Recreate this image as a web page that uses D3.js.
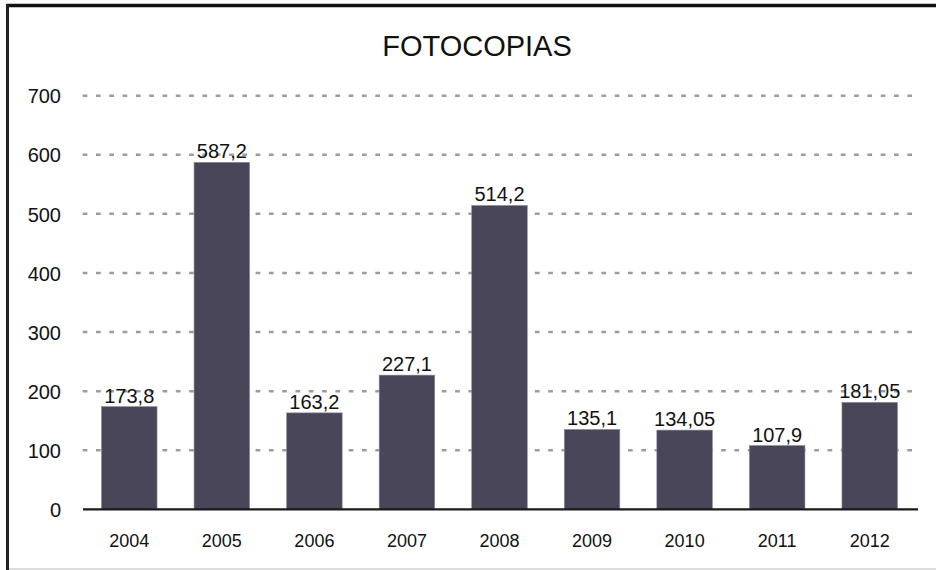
<!DOCTYPE html>
<html>
<head>
<meta charset="utf-8">
<script src="https://cdn.jsdelivr.net/npm/d3@7"></script>
<style>
  html, body { margin: 0; padding: 0; background: #fff; }
  svg { display: block; font-family: "Liberation Sans", Arial, sans-serif; }
</style>
</head>
<body>
<svg id="chart" width="936" height="570"></svg>
<script>
const title = "FOTOCOPIAS";
const categories = ["2004", "2005", "2006", "2007", "2008", "2009", "2010", "2011", "2012"];
const values = [173.8, 587.2, 163.2, 227.1, 514.2, 135.1, 134.05, 107.9, 181.05];
const valueLabels = ["173,8", "587,2", "163,2", "227,1", "514,2", "135,1", "134,05", "107,9", "181,05"];
const yTicks = [0, 100, 200, 300, 400, 500, 600, 700];

const svg = d3.select("#chart");
const W = 936, H = 570;

// frame
svg.append("rect").attr("x", 0).attr("y", 0).attr("width", W).attr("height", H).attr("fill", "#fff");
svg.append("line").attr("x1", 7).attr("x2", W).attr("y1", 5.5).attr("y2", 5.5)
  .attr("stroke", "#111").attr("stroke-width", 3.5);
svg.append("line").attr("x1", 7.5).attr("x2", 7.5).attr("y1", 4).attr("y2", H)
  .attr("stroke", "#222").attr("stroke-width", 3);
svg.append("line").attr("x1", 9).attr("x2", W).attr("y1", 569).attr("y2", 569)
  .attr("stroke", "#d0d0d0").attr("stroke-width", 1.5);

const x = d3.scaleBand().domain(categories).range([83, 916]).paddingInner(0.4).paddingOuter(0.2);
const y = d3.scaleLinear().domain([0, 700]).range([509.3, 95.7]);

// title
svg.append("text").attr("x", 477).attr("y", 56).attr("text-anchor", "middle")
  .attr("font-size", 29).attr("fill", "#111").text(title);

// gridlines
svg.append("g").selectAll("line").data(yTicks.filter(d => d > 0)).join("line")
  .attr("x1", 82.7).attr("x2", 916)
  .attr("y1", d => y(d)).attr("y2", d => y(d))
  .attr("stroke", "#9c9c9c").attr("stroke-width", 2.5)
  .attr("stroke-dasharray", "4.7 8.6");

// y axis labels
const yAxis = d3.axisLeft(y).tickValues(yTicks).tickSize(0).tickPadding(0).tickFormat(d3.format("d"));
const ya = svg.append("g").attr("transform", "translate(61,0)").call(yAxis);
ya.select(".domain").remove();
ya.selectAll("text").attr("font-size", 20).attr("fill", "#111")
  .attr("font-family", "Liberation Sans, Arial, sans-serif").attr("dy", "0.36em");

// bars
svg.append("g").selectAll("rect").data(values).join("rect")
  .attr("x", (d, i) => x(categories[i]))
  .attr("width", x.bandwidth())
  .attr("y", d => y(d))
  .attr("height", d => y(0) - y(d))
  .attr("fill", "#4a465a")
  .attr("stroke", "#8a889a").attr("stroke-width", 0.6);

// value labels
svg.append("g").selectAll("text").data(values).join("text")
  .attr("x", (d, i) => x(categories[i]) + x.bandwidth() / 2)
  .attr("y", d => y(d) - 4)
  .attr("text-anchor", "middle")
  .attr("font-size", 20).attr("fill", "#111")
  .text((d, i) => valueLabels[i]);

// x axis
const xAxis = d3.axisBottom(x).tickSize(0).tickPadding(0);
const xa = svg.append("g").attr("transform", "translate(0,509.3)").call(xAxis);
xa.select(".domain").remove();
xa.selectAll("text").attr("font-size", 18).attr("fill", "#111")
  .attr("font-family", "Liberation Sans, Arial, sans-serif").attr("dy", null).attr("y", 37.7);
svg.append("line").attr("x1", 83).attr("x2", 918).attr("y1", 509.3).attr("y2", 509.3)
  .attr("stroke", "#1a1a1a").attr("stroke-width", 2.2);
</script>
</body>
</html>
